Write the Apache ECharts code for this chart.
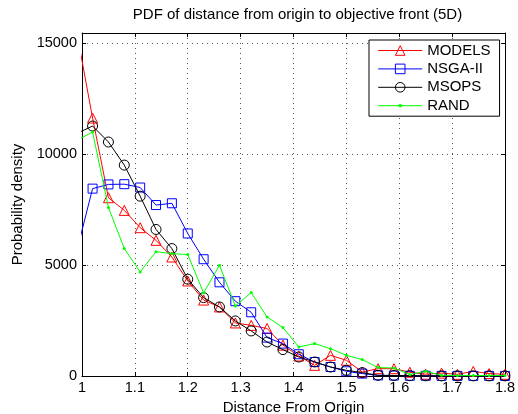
<!DOCTYPE html>
<html>
<head>
<meta charset="utf-8">
<script src="https://cdn.jsdelivr.net/npm/echarts@6/dist/echarts.min.js"></script>
<style>
html,body{margin:0;padding:0;background:#fff;}
#chart{width:518px;height:414px;}
</style>
</head>
<body>
<div id="chart"></div>
<script>
var titleText = 'PDF of distance from origin to objective front (5D)';
var xAxisName = 'Distance From Origin';
var yAxisName = 'Probability density';
var seriesNames = ['MODELS', 'NSGA-II', 'MSOPS', 'RAND'];

var distance = [0.99, 1.02, 1.05, 1.08, 1.11, 1.14, 1.17, 1.20, 1.23, 1.26, 1.29, 1.32, 1.35, 1.38,
                1.41, 1.44, 1.47, 1.50, 1.53, 1.56, 1.59, 1.62, 1.65, 1.68, 1.71, 1.74, 1.77, 1.80];

var modelsPdf = [15500, 11620, 8030, 7460, 6680, 6110, 5360, 4280, 3420, 3110, 2390, 2280, 2140, 1390,
                 900, 480, 930, 710, 180, 330, 330, 170, 80, 130, 75, 210, 110, 75];
var nsgaPdf   = [5620, 8440, 8630, 8640, 8490, 7700, 7780, 6420, 5260, 4220, 3370, 2870, 1730, 1460,
                 980, 630, 405, 212, 108, 30, 20, 10, 10, 5, 5, 5, 5, 5];
var msopsPdf  = [10920, 11260, 10540, 9500, 8100, 6600, 5740, 4360, 3530, 3110, 2480, 2030, 1530, 1190,
                 856, 631, 405, 257, 153, 30, 25, 15, 10, 5, 5, 5, 5, 5];
var randPdf   = [10610, 10990, 7590, 5740, 4690, 5600, 5510, 5470, 3740, 4990, 3150, 3760, 2660, 2180,
                 1310, 1460, 1230, 930, 740, 380, 360, 63, 212, 30, 20, 20, 20, 20];

var xTicks = {min: 1, max: 1.8, interval: 0.1};
var yTicks = {min: 0, max: 15450, interval: 5000};
var yTickValues = [0, 5000, 10000, 15000];

var FONT = '"Liberation Sans", Arial, Helvetica, sans-serif';

function pairs(vals) {
  return distance.map(function (x, i) { return [x, vals[i]]; });
}

var styles = [
  {color: '#ff0000', symbol: 'triangle', size: 10, hollow: true},
  {color: '#0000ff', symbol: 'rect', size: 9, hollow: true},
  {color: '#000000', symbol: 'circle', size: 10, hollow: true},
  {color: '#00ff00', symbol: 'circle', size: 3, hollow: false}
];
var allVals = [modelsPdf, nsgaPdf, msopsPdf, randPdf];

var series = seriesNames.map(function (name, i) {
  var s = styles[i];
  return {
    name: name,
    type: 'line',
    xAxisIndex: 0,
    yAxisIndex: 0,
    data: pairs(allVals[i]),
    clip: true,
    symbol: s.symbol,
    symbolSize: s.size,
    showAllSymbol: true,
    animation: false,
    lineStyle: {color: s.color, width: 1},
    itemStyle: s.hollow ? {color: 'rgba(255,255,255,0)', borderColor: s.color, borderWidth: 1}
                        : {color: s.color, borderColor: s.color, borderWidth: 0},
    emphasis: {disabled: true},
    z: 2 + i
  };
});

var legendData = seriesNames.map(function (name, i) {
  if (i === 3) {
    return {
      name: name,
      icon: 'path://M0 0 M0 6 L44 6 M20.8 5 L23.2 5 L23.2 7 L20.8 7 Z M44 12',
      itemStyle: {color: '#00ff00', borderColor: '#00ff00', borderWidth: 1}
    };
  }
  return {name: name};
});

var gridLine = {show: true, lineStyle: {color: '#555', width: 1, type: [1, 4]}};

var chart = echarts.init(document.getElementById('chart'), null, {renderer: 'canvas'});
chart.setOption({
  backgroundColor: '#fff',
  animation: false,
  title: {
    text: titleText,
    left: 292.5,
    textAlign: 'center',
    top: 2,
    textStyle: {fontFamily: FONT, fontSize: 15, fontWeight: 'normal', color: '#000'}
  },
  grid: {left: 82, right: 13, top: 33, bottom: 38, containLabel: false, outerBoundsMode: 'none'},
  legend: {
    data: legendData,
    orient: 'vertical',
    left: 369,
    top: 40,
    padding: [3, 9, 3, 8.7],
    itemWidth: 44,
    itemHeight: 12,
    itemGap: 3.4,
    backgroundColor: '#fff',
    borderColor: '#000',
    borderWidth: 1,
    borderRadius: 0,
    lineStyle: {width: 1},
    itemStyle: {borderWidth: 1},
    textStyle: {fontFamily: FONT, fontSize: 15, lineHeight: 15, color: '#000'}
  },
  xAxis: [
    {
      type: 'value', position: 'bottom',
      min: xTicks.min, max: xTicks.max, interval: xTicks.interval,
      name: xAxisName, nameLocation: 'middle', nameGap: 22,
      nameTextStyle: {fontFamily: FONT, fontSize: 15, color: '#000'},
      axisLine: {show: true, onZero: false, lineStyle: {color: '#000', width: 1}},
      axisTick: {show: true, inside: true, length: 4, lineStyle: {color: '#000'}},
      axisLabel: {fontFamily: FONT, fontSize: 14.5, color: '#000', margin: 4, hideOverlap: false},
      splitLine: gridLine
    },
    {
      type: 'value', position: 'top',
      min: xTicks.min, max: xTicks.max, interval: xTicks.interval,
      axisLine: {show: true, onZero: false, lineStyle: {color: '#000', width: 1}},
      axisTick: {show: true, inside: true, length: 4, lineStyle: {color: '#000'}},
      axisLabel: {show: false},
      splitLine: {show: false}
    }
  ],
  yAxis: [
    {
      type: 'value', position: 'left',
      min: yTicks.min, max: yTicks.max, interval: yTicks.interval,
      name: yAxisName, nameLocation: 'middle', nameGap: 55, nameRotate: 90,
      nameTextStyle: {fontFamily: FONT, fontSize: 15, color: '#000'},
      axisLine: {show: true, onZero: false, lineStyle: {color: '#000', width: 1}},
      axisTick: {show: true, inside: true, length: 4, lineStyle: {color: '#000'},
                 customValues: yTickValues},
      axisLabel: {fontFamily: FONT, fontSize: 14.5, color: '#000', margin: 5,
                  customValues: yTickValues,
                  formatter: function (v) { return String(v); }},
      splitLine: gridLine
    },
    {
      type: 'value', position: 'right',
      min: yTicks.min, max: yTicks.max, interval: yTicks.interval,
      axisLine: {show: true, onZero: false, lineStyle: {color: '#000', width: 1}},
      axisTick: {show: true, inside: true, length: 4, lineStyle: {color: '#000'},
                 customValues: yTickValues},
      axisLabel: {show: false},
      splitLine: {show: false}
    }
  ],
  series: series
});
</script>
</body>
</html>
